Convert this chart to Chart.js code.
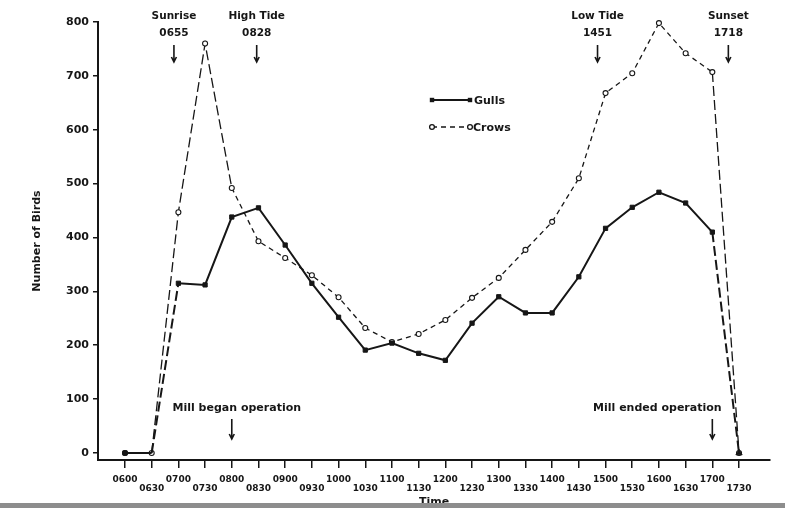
<!DOCTYPE html>
<html>
<head>
<meta charset="utf-8">
<script src="https://cdn.jsdelivr.net/npm/chart.js@4.4.0/dist/chart.umd.min.js"></script>
<style>
  html, body { margin: 0; padding: 0; background: #fff; }
  #wrap { width: 785px; height: 508px; position: relative; }
</style>
</head>
<body>
<div id="wrap"><canvas id="birds" width="785" height="508"></canvas></div>
<script>
// Half-hourly counts, 0600 to 1730
const times = ['0600','0630','0700','0730','0800','0830','0900','0930','1000','1030','1100','1130',
               '1200','1230','1300','1330','1400','1430','1500','1530','1600','1630','1700','1730'];
const gulls = [0, 0, 315, 312, 438, 455, 386, 315, 252, 191, 204, 185,
               172, 241, 290, 260, 260, 327, 417, 456, 484, 464, 410, 0];
const crows = [0, 0, 447, 760, 492, 393, 362, 330, 289, 232, 206, 221,
               247, 288, 325, 377, 429, 510, 668, 705, 798, 742, 707, 0];
const yTicks = [0, 100, 200, 300, 400, 500, 600, 700, 800];

// Notes along the top (sun and tide) and along the bottom (mill)
const topNotes = [
  { title: 'Sunrise', time: '0655' },
  { title: 'High Tide', time: '0828' },
  { title: 'Low Tide', time: '1451' },
  { title: 'Sunset', time: '1718' }
];
const millNotes = [
  { title: 'Mill began operation', time: '0800', shift: 5 },
  { title: 'Mill ended operation', time: '1700', shift: -55 }
];

const INK = '#161616';
const FONT = '"DejaVu Sans", "Liberation Sans", sans-serif';

// clock time "hhmm" -> position on the half-hour index axis
function timeIndex(hhmm) {
  const h = parseInt(hhmm.slice(0, 2), 10), m = parseInt(hhmm.slice(2), 10);
  return (h * 60 + m - 360) / 30;
}

function drawArrow(ctx, x, y0, y1) {
  ctx.beginPath();
  ctx.moveTo(x, y0); ctx.lineTo(x, y1);
  ctx.moveTo(x - 2.5, y1 - 5); ctx.lineTo(x, y1); ctx.lineTo(x + 2.5, y1 - 5);
  ctx.stroke();
}

const notesPlugin = {
  id: 'notes',
  afterDraw(chart) {
    const ctx = chart.ctx;
    const xs = chart.scales.x;
    ctx.save();
    ctx.fillStyle = INK;
    ctx.strokeStyle = INK;
    ctx.lineWidth = 1.6;
    ctx.textAlign = 'center';
    ctx.textBaseline = 'middle';
    ctx.font = 'bold 10.5px ' + FONT;

    topNotes.forEach(n => {
      const x = xs.getPixelForValue(timeIndex(n.time));
      ctx.fillText(n.title, x, 16);
      ctx.fillText(n.time, x, 33);
      drawArrow(ctx, x, 45, 62);
    });

    ctx.font = 'bold 11px ' + FONT;
    millNotes.forEach(n => {
      const x = xs.getPixelForValue(timeIndex(n.time));
      ctx.fillText(n.title, x + n.shift, 408);
      drawArrow(ctx, x, 419, 439);
    });

    // legend
    const lx0 = 432, lx1 = 470;
    ctx.textAlign = 'left';
    ctx.font = 'bold 11px ' + FONT;
    // Gulls
    ctx.lineWidth = 2;
    ctx.setLineDash([]);
    ctx.beginPath(); ctx.moveTo(lx0, 100); ctx.lineTo(lx1, 100); ctx.stroke();
    [lx0, lx1].forEach(x => ctx.fillRect(x - 2.2, 100 - 2.2, 4.4, 4.4));
    ctx.fillText('Gulls', 474, 101);
    // Crows
    ctx.lineWidth = 1.3;
    ctx.setLineDash([5, 4]);
    ctx.beginPath(); ctx.moveTo(lx0, 127); ctx.lineTo(lx1, 127); ctx.stroke();
    ctx.setLineDash([]);
    [lx0, lx1].forEach(x => {
      ctx.beginPath(); ctx.arc(x, 127, 2.4, 0, Math.PI * 2);
      ctx.fillStyle = '#fff'; ctx.fill(); ctx.stroke();
    });
    ctx.fillStyle = INK;
    ctx.fillText('Crows', 473, 128);

    // grey page edge along the bottom
    ctx.fillStyle = '#8d8d8d';
    ctx.fillRect(0, 503, chart.width, 5);
    ctx.restore();
  }
};

const pts = arr => arr.map((v, i) => ({ x: i, y: v }));

new Chart(document.getElementById('birds'), {
  type: 'line',
  data: {
    datasets: [
      {
        label: 'Gulls',
        data: pts(gulls),
        order: 0,
        borderColor: INK,
        borderWidth: 2,
        // the 0630 gull marker sits under the crow circle; the last one is a triangle
        pointStyle: c => (c.dataIndex === gulls.length - 1 ? 'triangle' : 'rect'),
        pointRadius: c => (c.dataIndex === 1 ? 0 : (c.dataIndex === gulls.length - 1 ? 3.6 : 3)),
        pointBackgroundColor: INK,
        pointBorderColor: INK,
        pointBorderWidth: 1,
        tension: 0,
        clip: false,
        segment: {
          borderDash: c => [1, 22].includes(c.p0DataIndex) ? [10, 4] : undefined
        }
      },
      {
        label: 'Crows',
        data: pts(crows),
        order: 1,
        borderColor: INK,
        borderWidth: 1.3,
        borderDash: [5, 4],
        pointStyle: 'circle',
        pointRadius: 2.5,
        pointBackgroundColor: '#fff',
        pointBorderColor: INK,
        pointBorderWidth: 1.1,
        tension: 0,
        clip: false,
        segment: {
          borderDash: c => [1, 2, 3, 22].includes(c.p0DataIndex) ? [10, 4] : undefined
        }
      }
    ]
  },
  options: {
    responsive: false,
    devicePixelRatio: 1,
    animation: false,
    layout: { padding: { top: 22, right: 15, bottom: 0, left: 0 } },
    plugins: { legend: { display: false }, tooltip: { enabled: false } },
    scales: {
      x: {
        type: 'linear',
        min: -1.011,
        max: 24.16,
        afterBuildTicks: s => { s.ticks = times.map((t, i) => ({ value: i })); },
        afterFit: s => { s.height = 48; },
        grid: { drawOnChartArea: false, drawTicks: true, tickLength: 8, color: INK, lineWidth: 1.5 },
        border: { display: true, color: INK, width: 2 },
        ticks: {
          autoSkip: false,
          maxRotation: 0,
          minRotation: 0,
          padding: 7.5,
          color: INK,
          font: { family: FONT, weight: 'bold', size: 9, lineHeight: 1 },
          callback: (v, i) => (i % 2 === 0 ? [times[i], ''] : ['', times[i]])
        },
        title: {
          display: true, text: 'Time', color: INK, padding: 0,
          font: { family: FONT, weight: 'bold', size: 11, lineHeight: 1 }
        }
      },
      y: {
        min: -13,
        max: 800,
        afterBuildTicks: s => { s.ticks = yTicks.map(v => ({ value: v })); },
        afterFit: s => { s.width = 98; },
        grid: { drawOnChartArea: false, drawTicks: true, tickLength: 5, color: INK, lineWidth: 1.5 },
        border: { display: true, color: INK, width: 2 },
        ticks: {
          padding: 4,
          color: INK,
          font: { family: FONT, weight: 'bold', size: 11 }
        },
        title: {
          display: true, text: 'Number of Birds', color: INK, padding: { top: 31, bottom: 0 },
          font: { family: FONT, weight: 'bold', size: 11 }
        }
      }
    }
  },
  plugins: [notesPlugin]
});
</script>
</body>
</html>
